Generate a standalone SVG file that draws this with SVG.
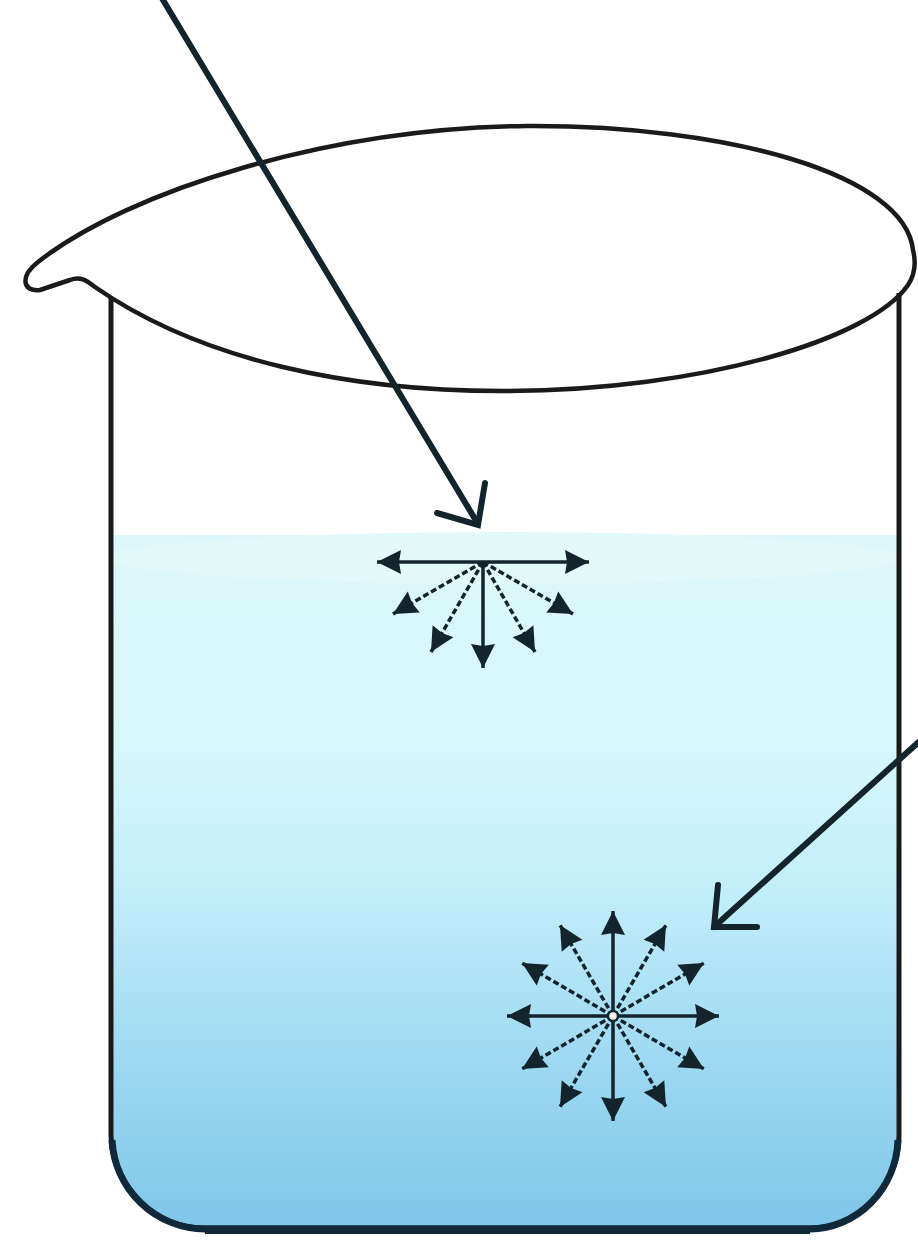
<svg xmlns="http://www.w3.org/2000/svg" width="918" height="1240" viewBox="0 0 918 1240">
  <defs>
    <linearGradient id="waterGrad" x1="0" y1="0" x2="0" y2="1" gradientUnits="objectBoundingBox">
      <stop offset="0" stop-color="#dcf7f9"/>
      <stop offset="0.3" stop-color="#d6f7fb"/>
      <stop offset="0.5" stop-color="#c2eefa"/>
      <stop offset="0.7" stop-color="#a4dcf3"/>
      <stop offset="1" stop-color="#7cc4e8"/>
    </linearGradient>
    <clipPath id="beakerInside">
      <path d="M111 297 L111 1135 A94 94 0 0 0 205 1228 L810 1228 A89 93 0 0 0 899 1135 L899 293 Z"/>
    </clipPath>
    <marker id="head" viewBox="-26 -14 28 28" refX="0" refY="0" markerWidth="28" markerHeight="28" markerUnits="userSpaceOnUse" orient="auto">
      <path d="M0 0 L-24 -12 L-22 0 L-24 12 Z" fill="#13242c"/>
    </marker>
    <style>
      .wall { fill: none; stroke: #1a1a1a; stroke-width: 5; stroke-linejoin: round; }
      .base { fill: none; stroke: #10293a; stroke-width: 7; stroke-linecap: butt; }
      .floor { fill: none; stroke: #10293a; stroke-width: 8; stroke-linecap: butt; }
      .rim { fill: none; stroke: #1a1a1a; stroke-width: 4.5; stroke-linejoin: round; }
      .ray { stroke: #13242c; stroke-width: 3.5; fill: none; marker-end: url(#head); }
      .ray.dash { stroke-dasharray: 6 3; }
      .pointer { stroke: #13242c; stroke-width: 6; fill: none; stroke-linecap: round; stroke-linejoin: miter; }
    </style>
  </defs>

  <rect width="918" height="1240" fill="#ffffff"/>

  <!-- water body -->
  <g id="water" clip-path="url(#beakerInside)">
    <rect x="100" y="535" width="810" height="710" fill="url(#waterGrad)"/>
    <ellipse cx="505" cy="558" rx="400" ry="26" fill="#e2f9fa"/>
  </g>

  <!-- beaker glass -->
  <g id="beaker">
    <path class="wall" d="M111 297 L111 1135 A94 94 0 0 0 205 1228 L810 1228 A89 93 0 0 0 899 1135 L899 293"/>
    <path class="base" d="M112 1140 A94 94 0 0 0 205 1229 L810 1229 A89 93 0 0 0 898 1140"/>
    <path class="floor" d="M205 1230 L810 1230"/>
    <path class="rim" d="M913 250 C 905 175, 730 125, 527 126 C 330 128, 130 190, 38 262 C 20 276, 22 292, 40 290 L 70 280 C 80 276, 86 280, 95 287 C 200 360, 350 392, 509 391 C 700 390, 870 340, 908 285 C 916 273, 916 262, 913 250 Z"/>
  </g>

  <!-- surface molecule: forces point sideways and downward only -->
  <g id="surface-molecule">
    <line class="ray" x1="483" y1="562" x2="589" y2="562"/>
    <line class="ray dash" x1="483" y1="562" x2="573" y2="614"/>
    <line class="ray dash" x1="483" y1="562" x2="535" y2="652"/>
    <line class="ray" x1="483" y1="562" x2="483" y2="668"/>
    <line class="ray dash" x1="483" y1="562" x2="431" y2="652"/>
    <line class="ray dash" x1="483" y1="562" x2="393" y2="614"/>
    <line class="ray" x1="483" y1="562" x2="377" y2="562"/>
  </g>

  <!-- interior molecule: forces in every direction -->
  <g id="interior-molecule">
    <line class="ray" x1="613" y1="1016" x2="719" y2="1016"/>
    <line class="ray dash" x1="613" y1="1016" x2="704" y2="1069"/>
    <line class="ray dash" x1="613" y1="1016" x2="666" y2="1107"/>
    <line class="ray" x1="613" y1="1016" x2="613" y2="1121"/>
    <line class="ray dash" x1="613" y1="1016" x2="560" y2="1107"/>
    <line class="ray dash" x1="613" y1="1016" x2="522" y2="1069"/>
    <line class="ray" x1="613" y1="1016" x2="507" y2="1016"/>
    <line class="ray dash" x1="613" y1="1016" x2="522" y2="963"/>
    <line class="ray dash" x1="613" y1="1016" x2="560" y2="925"/>
    <line class="ray" x1="613" y1="1016" x2="613" y2="911"/>
    <line class="ray dash" x1="613" y1="1016" x2="666" y2="925"/>
    <line class="ray dash" x1="613" y1="1016" x2="704" y2="963"/>
    <circle cx="613" cy="1016" r="5" fill="#f4f4f4" stroke="#13242c" stroke-width="2.5"/>
  </g>

  <!-- pointer arrows -->
  <g id="connectors">
    <line class="pointer" x1="160" y1="-5" x2="478" y2="524"/>
    <polyline class="pointer" points="437,513 478,525 485,483"/>
    <line class="pointer" x1="922" y1="739" x2="714" y2="927"/>
    <polyline class="pointer" points="718,885 714,927 757,927"/>
  </g>
</svg>
